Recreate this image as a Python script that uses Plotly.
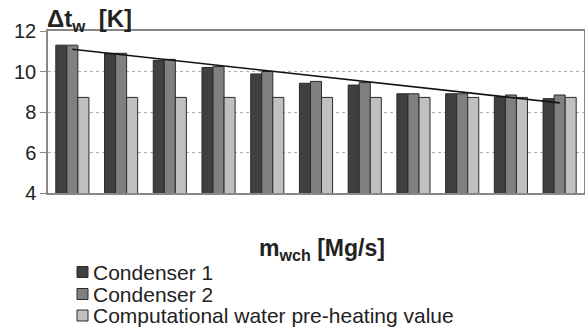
import plotly.graph_objects as go

categories = ["1", "2", "3", "4", "5", "6", "7", "8", "9", "10", "11"]
condenser_1 = [11.3, 10.9, 10.55, 10.2, 9.88, 9.42, 9.33, 8.9, 8.9, 8.74, 8.66]
condenser_2 = [11.3, 10.9, 10.6, 10.24, 10.0, 9.51, 9.45, 8.9, 8.9, 8.84, 8.84]
computational = [8.72, 8.72, 8.72, 8.72, 8.72, 8.72, 8.72, 8.72, 8.72, 8.72, 8.72]
trend_x = ["1", "11"]
trend_values = [11.1, 8.45]
y_ticks = [4, 6, 8, 10, 12]
series_names = ["Condenser 1", "Condenser 2", "Computational water pre-heating value"]
series_colors = ["#404040", "#808080", "#c0c0c0"]

FONT = "Arial, Liberation Sans, sans-serif"
W, H = 585, 327
L, R, T, B = 48, 1, 31, 134
PW, PH = W - L - R, H - T - B


def px_x(x):
    return (x - L) / PW


def px_y(y):
    return (H - B - y) / PH


fig = go.Figure()
for name, vals, col in zip(series_names, [condenser_1, condenser_2, computational], series_colors):
    fig.add_trace(go.Bar(x=categories, y=vals, name=name, showlegend=False,
                         marker=dict(color=col, line=dict(color="#2a2a2a", width=1))))
fig.add_trace(go.Scatter(x=trend_x, y=trend_values, mode="lines",
                         line=dict(color="#111111", width=1.6), showlegend=False))

# legend drawn as shapes + text
legend_y = [272, 294, 315.5]
shapes = []
annotations = []
for name, col, yc in zip(series_names, series_colors, legend_y):
    shapes.append(dict(type="rect", xref="paper", yref="paper",
                       x0=px_x(77), x1=px_x(88), y0=px_y(yc - 5.5), y1=px_y(yc + 5.5),
                       fillcolor=col, line=dict(color="#2a2a2a", width=1)))
    annotations.append(dict(text=name, xref="paper", yref="paper", x=px_x(91), y=px_y(yc),
                            xanchor="left", yanchor="middle", showarrow=False,
                            font=dict(size=21, family=FONT, color="#222222")))

annotations += [
    dict(text="<b>Δt<sub>w</sub>&nbsp;&nbsp;[K]</b>", xref="paper", yref="paper",
         x=px_x(45), y=px_y(21), xanchor="left", yanchor="middle",
         showarrow=False, font=dict(size=24, family=FONT, color="#222222")),
    dict(text="<b>m<sub>wch</sub> [Mg/s]</b>", xref="paper", yref="paper",
         x=px_x(322), y=px_y(249), xanchor="center", yanchor="middle",
         showarrow=False, font=dict(size=23, family=FONT, color="#222222")),
]

fig.update_layout(
    width=W, height=H,
    margin=dict(l=L, r=R, t=T, b=B, autoexpand=False),
    paper_bgcolor="white", plot_bgcolor="white",
    barmode="group", bargap=0.32, bargroupgap=0,
    font=dict(family=FONT, color="#222222"),
    showlegend=False,
    xaxis=dict(showticklabels=False, ticks="", showline=True, linecolor="#888888",
               linewidth=1.5, mirror=True, showgrid=False),
    yaxis=dict(range=[4, 12], tickvals=y_ticks, ticks="outside", ticklen=6,
               tickcolor="#888888", showline=True, linecolor="#888888", linewidth=1.5,
               mirror=True, showgrid=True, gridcolor="#b0b0b0", griddash="dot",
               tickfont=dict(size=20, family=FONT, color="#222222")),
    shapes=shapes,
    annotations=annotations,
)
fig.write_html("out.html", config={"displayModeBar": False},
               post_script="document.body.style.margin='0';document.body.style.padding='0';"
                           "document.body.style.overflow='hidden';")
